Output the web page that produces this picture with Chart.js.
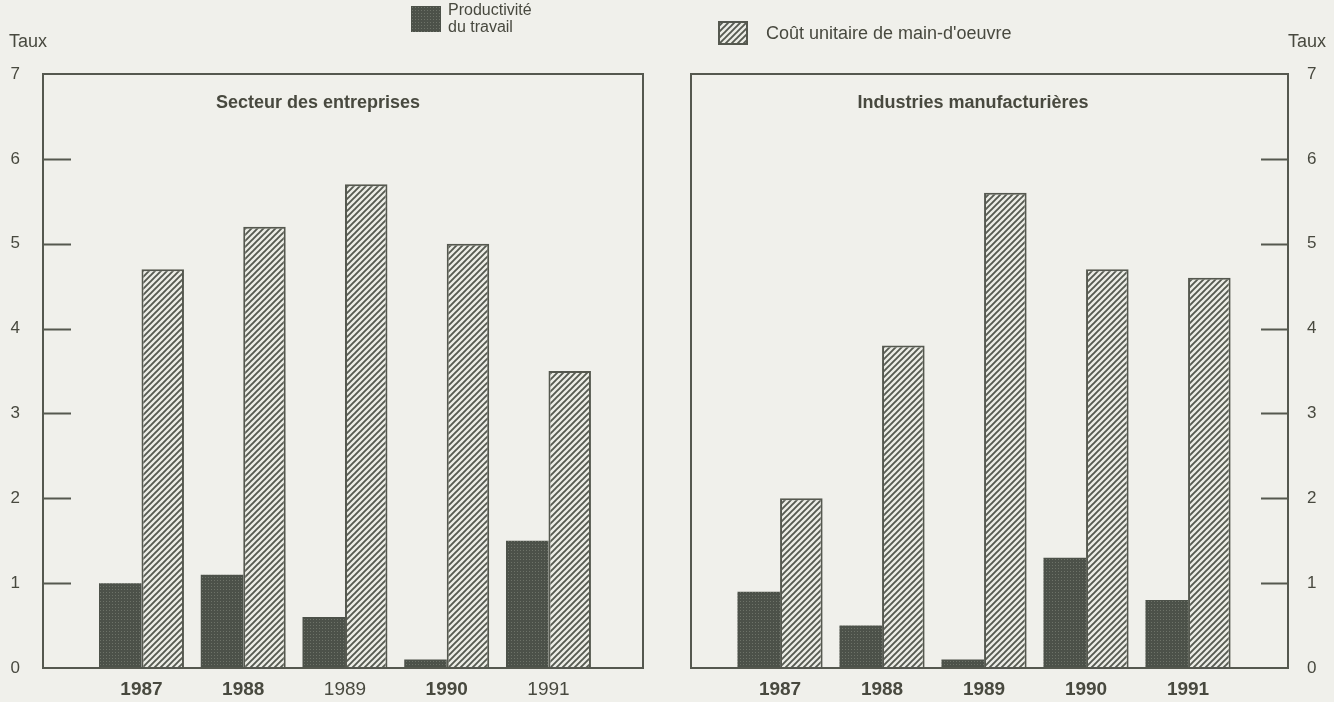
<!DOCTYPE html>
<html>
<head>
<meta charset="utf-8">
<script src="https://cdn.jsdelivr.net/npm/chart.js@4.4.1/dist/chart.umd.min.js"></script>
<style>
  html, body { margin: 0; padding: 0; background: #f0f0eb; }
  body { width: 1334px; height: 702px; position: relative; overflow: hidden;
         font-family: "Liberation Sans", Arial, Helvetica, sans-serif; color: #48493f; }
  canvas.chart { position: absolute; top: 0; }
  .txt { position: absolute; font-size: 18px; white-space: nowrap; }
  .sw { position: absolute; }
</style>
</head>
<body>
<canvas id="left" class="chart" width="667" height="702" style="left:0"></canvas>
<canvas id="right" class="chart" width="667" height="702" style="left:667px"></canvas>
<div class="txt" style="left:9px; top:31px;">Taux</div>
<div class="txt" style="right:8px; top:31px;">Taux</div>
<canvas id="sw1" class="sw" width="30" height="26" style="left:411px; top:6px;"></canvas>
<div class="txt" style="left:448px; top:1px; font-size:16px; line-height:17px;">Productivité<br>du travail</div>
<canvas id="sw2" class="sw" width="30" height="24" style="left:718px; top:21px;"></canvas>
<div class="txt" style="left:766px; top:23px; font-size:18px;">Coût unitaire de main-d'oeuvre</div>
<script>
// ---- data ----
const years = [1987, 1988, 1989, 1990, 1991];
const yTicks = [0, 1, 2, 3, 4, 5, 6, 7];
const seriesNames = ["Productivité du travail", "Coût unitaire de main-d'oeuvre"];
const panelTitles = ["Secteur des entreprises", "Industries manufacturières"];
const entreprisesProd = [1.0, 1.1, 0.6, 0.1, 1.5];
const entreprisesCout = [4.7, 5.2, 5.7, 5.0, 3.5];
const manufProd = [0.9, 0.5, 0.1, 1.3, 0.8];
const manufCout = [2.0, 3.8, 5.6, 4.7, 4.6];
// years printed in regular weight (the rest are bold), per panel
const leftRegularYears = [1989, 1991];
const rightRegularYears = [];

// ---- patterns ----
function stipple() {
  const c = document.createElement('canvas'); c.width = 3; c.height = 3;
  const g = c.getContext('2d');
  g.fillStyle = '#4c5149'; g.fillRect(0, 0, 3, 3);
  g.fillStyle = '#6d7268'; g.fillRect(1, 1, 1, 1);
  return g.createPattern(c, 'repeat');
}
function hatch() {
  const c = document.createElement('canvas'); c.width = 6; c.height = 6;
  const g = c.getContext('2d');
  g.fillStyle = '#ecede6'; g.fillRect(0, 0, 6, 6);
  g.strokeStyle = '#565a51'; g.lineWidth = 1.9;
  g.beginPath();
  g.moveTo(-1, 7); g.lineTo(7, -1);
  g.moveTo(-1, 1); g.lineTo(1, -1);
  g.moveTo(5, 7); g.lineTo(7, 5);
  g.stroke();
  return g.createPattern(c, 'repeat');
}
const darkFill = stipple();
const hatchFill = hatch();
const lineColor = '#55584f';
const textColor = '#48493f';
const fontFamily = '"Liberation Sans", Arial, sans-serif';

// legend swatches
(function () {
  const a = document.getElementById('sw1').getContext('2d');
  a.fillStyle = darkFill; a.fillRect(0, 0, 30, 26);
  const b = document.getElementById('sw2').getContext('2d');
  b.fillStyle = hatchFill; b.fillRect(0, 0, 30, 24);
  b.strokeStyle = lineColor; b.lineWidth = 2; b.strokeRect(1, 1, 28, 22);
})();

const framePlugin = {
  id: 'frame',
  afterDatasetsDraw(chart, args, opts) {
    const { ctx, chartArea: a } = chart;
    const y = chart.scales.y;
    ctx.save();
    ctx.strokeStyle = lineColor;
    ctx.lineWidth = 2;
    ctx.strokeRect(a.left, a.top, a.right - a.left, a.bottom - a.top);
    ctx.beginPath();
    yTicks.forEach(v => {
      if (v <= 0 || v >= 7) return;
      const py = Math.round(y.getPixelForValue(v)) + 0.5;
      if (opts.side === 'left') { ctx.moveTo(a.left, py); ctx.lineTo(a.left + 28, py); }
      else { ctx.moveTo(a.right, py); ctx.lineTo(a.right - 27, py); }
    });
    ctx.stroke();
    ctx.fillStyle = textColor;
    ctx.font = 'bold 18px ' + fontFamily;
    ctx.textAlign = 'center';
    ctx.textBaseline = 'middle';
    ctx.fillText(opts.title, a.left + opts.titleDx, a.top + 29);
    ctx.restore();
  }
};

function makeChart(id, prod, cout, side, xmin, xmax, regularYears, title, titleDx) {
  const left = side === 'left';
  return new Chart(document.getElementById(id), {
    type: 'bar',
    data: {
      datasets: [
        { label: seriesNames[0], data: years.map((yr, i) => ({ x: yr, y: prod[i] })),
          backgroundColor: darkFill, borderWidth: 0 },
        { label: seriesNames[1], data: years.map((yr, i) => ({ x: yr, y: cout[i] })),
          backgroundColor: hatchFill, borderColor: lineColor, borderWidth: 2 }
      ]
    },
    options: {
      responsive: false,
      animation: false,
      categoryPercentage: 0.835,
      barPercentage: 1.0,
      layout: { padding: { top: 74, right: left ? 24 : 0, left: left ? 0 : 24, bottom: 0 } },
      plugins: {
        legend: { display: false },
        tooltip: { enabled: false },
        frame: { side, title, titleDx }
      },
      scales: {
        x: {
          type: 'linear', min: xmin, max: xmax, offset: false,
          grid: { display: false, drawTicks: false, offset: false },
          border: { display: false },
          afterBuildTicks: s => { s.ticks = years.map(v => ({ value: v })); },
          afterFit: s => { s.height = 34; },
          ticks: {
            autoSkip: false, maxRotation: 0, padding: 10, color: textColor,
            callback: v => String(v),
            font: ctx => ({ family: fontFamily, size: 19,
              weight: (ctx.tick && regularYears.includes(ctx.tick.value)) ? 'normal' : 'bold' })
          }
        },
        y: {
          position: side, min: 0, max: 7,
          grid: { display: false, drawTicks: false },
          border: { display: false },
          afterBuildTicks: s => { s.ticks = yTicks.map(v => ({ value: v })); },
          afterFit: s => { s.width = left ? 43 : 46; },
          ticks: {
            padding: left ? 23 : 19, color: textColor,
            font: { family: fontFamily, size: 17 },
            callback: v => String(v)
          }
        }
      }
    },
    plugins: [framePlugin]
  });
}

makeChart('left', entreprisesProd, entreprisesCout, 'left', 1986.032, 1991.929, leftRegularYears, panelTitles[0], 275);
makeChart('right', manufProd, manufCout, 'right', 1986.127, 1991.98, rightRegularYears, panelTitles[1], 282);
</script>
</body>
</html>
